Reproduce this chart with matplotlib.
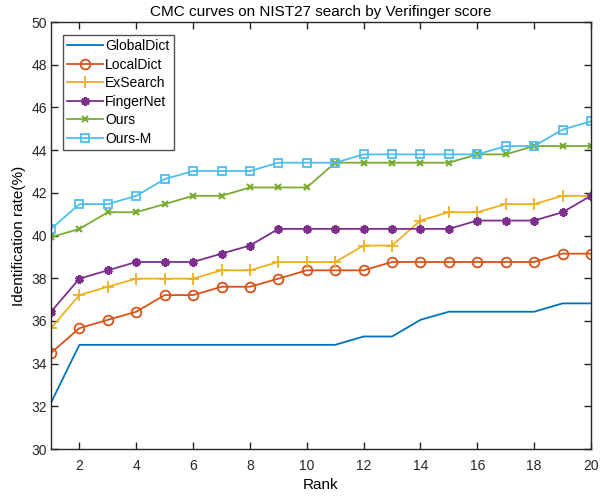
import matplotlib.pyplot as plt
import numpy as np

plt.rcParams['font.family'] = ['Liberation Sans', 'DejaVu Sans']

rank = list(range(1, 21))

# identification rates (%)
global_dict = [32.17, 34.88, 34.88, 34.88, 34.88, 34.88, 34.88, 34.88, 34.88, 34.88,
               34.88, 35.27, 35.27, 36.05, 36.43, 36.43, 36.43, 36.43, 36.82, 36.82]
local_dict = [34.50, 35.66, 36.05, 36.43, 37.21, 37.21, 37.60, 37.60, 37.98, 38.37,
              38.37, 38.37, 38.76, 38.76, 38.76, 38.76, 38.76, 38.76, 39.15, 39.15]
ex_search = [35.66, 37.21, 37.60, 37.98, 37.98, 37.98, 38.37, 38.37, 38.76, 38.76,
             38.76, 39.53, 39.53, 40.70, 41.09, 41.09, 41.47, 41.47, 41.86, 41.86]
finger_net = [36.43, 37.98, 38.37, 38.76, 38.76, 38.76, 39.15, 39.53, 40.31, 40.31,
              40.31, 40.31, 40.31, 40.31, 40.31, 40.70, 40.70, 40.70, 41.09, 41.86]
ours = [39.92, 40.31, 41.09, 41.09, 41.47, 41.86, 41.86, 42.25, 42.25, 42.25,
        43.41, 43.41, 43.41, 43.41, 43.41, 43.80, 43.80, 44.19, 44.19, 44.19]
ours_m = [40.31, 41.47, 41.47, 41.86, 42.64, 43.02, 43.02, 43.02, 43.41, 43.41,
          43.41, 43.80, 43.80, 43.80, 43.80, 43.80, 44.19, 44.19, 44.96, 45.35]

fig = plt.figure(figsize=(6, 4.99), dpi=100)
ax = fig.add_axes([0.085, 0.1002, 0.9, 0.8557])

lw = 1.3
ax.plot(rank, global_dict, color='#0072BD', lw=lw, label='GlobalDict')
ax.plot(rank, local_dict, color='#D95319', lw=lw, marker='o', ms=7,
        mfc='none', mew=1.3, label='LocalDict')
ax.plot(rank, ex_search, color='#EDB120', lw=lw, marker='+', ms=8,
        mew=1.3, label='ExSearch')
ax.plot(rank, finger_net, color='#7E2F8E', lw=lw, marker=(6, 2, 0), ms=6,
        mew=2.2, label='FingerNet')
ax.plot(rank, ours, color='#77AC30', lw=lw, marker='x', ms=5,
        mew=1.5, label='Ours')
ax.plot(rank, ours_m, color='#4DBEEE', lw=lw, marker='s', ms=6,
        mfc='none', mew=1.3, label='Ours-M')

ax.set_xlim(1, 20)
ax.set_ylim(30, 50)
ax.set_xticks(range(2, 21, 2))
ax.set_yticks(range(30, 51, 2))
ax.tick_params(direction='in', top=True, right=True, labelsize=10,
               length=5, width=1, colors='#262626')
ax.tick_params(axis='x', pad=7)
ax.tick_params(axis='y', pad=3)
for s in ax.spines.values():
    s.set_color('#262626')
    s.set_linewidth(1)

ax.set_xlabel('Rank', fontsize=11, labelpad=4)
ax.set_ylabel('Identification rate(%)', fontsize=11, labelpad=4)
ax.set_title('CMC curves on NIST27 search by Verifinger score', fontsize=11, pad=4)

leg = ax.legend(loc='upper left', bbox_to_anchor=(0.022, 0.97), fontsize=10,
                frameon=True, fancybox=False, edgecolor='#262626',
                handlelength=2.6, borderpad=0.3, labelspacing=0.33,
                handletextpad=0.15, borderaxespad=0)
leg.get_frame().set_linewidth(1)

fig.savefig('out.png', dpi=100)
